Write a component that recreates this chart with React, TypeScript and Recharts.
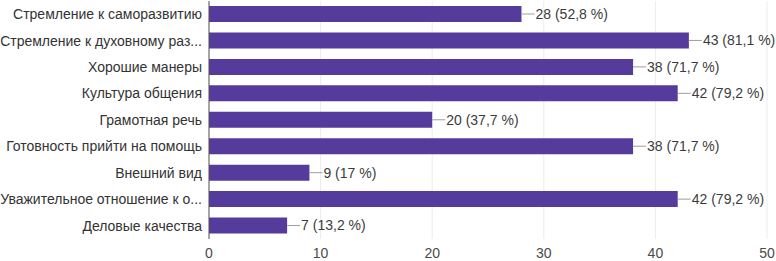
import { BarChart, Bar, XAxis, YAxis, CartesianGrid, LabelList } from "recharts";

const categories = [
  "Стремление к саморазвитию",
  "Стремление к духовному раз...",
  "Хорошие манеры",
  "Культура общения",
  "Грамотная речь",
  "Готовность прийти на помощь",
  "Внешний вид",
  "Уважительное отношение к о...",
  "Деловые качества",
];
const counts = [28, 43, 38, 42, 20, 38, 9, 42, 7];
const percents = ["52,8", "81,1", "71,7", "79,2", "37,7", "71,7", "17", "79,2", "13,2"];
const xTicks = [0, 10, 20, 30, 40, 50];

const data = categories.map((name, i) => ({
  name,
  value: counts[i],
  label: `${counts[i]} (${percents[i]} %)`,
}));

const FONT = "Arial, 'Liberation Sans', sans-serif";

function ValueLabel(props: any) {
  const { x, y, width, height, value } = props;
  const x0 = x + width;
  const cy = y + height / 2;
  return (
    <g>
      <line x1={x0} y1={cy} x2={x0 + 13} y2={cy} stroke="#9e9e9e" strokeWidth={1} />
      <text x={x0 + 14} y={cy} dy="0.35em" fontSize={14} fontFamily={FONT} fill="#3c3c3c">
        {value}
      </text>
    </g>
  );
}

function CategoryTick(props: any) {
  const { x, y, payload } = props;
  return (
    <text x={x - 5} y={y} dy="0.35em" textAnchor="end" fontSize={14} fontFamily={FONT} fill="#333">
      {payload.value}
    </text>
  );
}

export default function App() {
  return (
    <div style={{ position: "absolute", left: 0, top: 0, width: 776, height: 261, background: "#fff" }}>
      <BarChart
        width={776}
        height={261}
        data={data}
        layout="vertical"
        margin={{ top: 1, right: 9, bottom: 0, left: 0 }}
        barSize={16}
      >
        <CartesianGrid horizontal={false} stroke="#ececec" />
        <XAxis
          type="number"
          domain={[0, 50]}
          ticks={xTicks}
          axisLine={false}
          tickLine={false}
          tickSize={0}
          tickMargin={9}
          height={22}
          tick={{ fontSize: 14, fill: "#4a4a4a", fontFamily: FONT }}
        />
        <YAxis
          type="category"
          dataKey="name"
          width={209}
          tickLine={false}
          tickSize={0}
          axisLine={{ stroke: "#555" }}
          interval={0}
          tick={<CategoryTick />}
        />
        <Bar dataKey="value" fill="#553b9b" isAnimationActive={false}>
          <LabelList dataKey="label" content={<ValueLabel />} />
        </Bar>
      </BarChart>
    </div>
  );
}
